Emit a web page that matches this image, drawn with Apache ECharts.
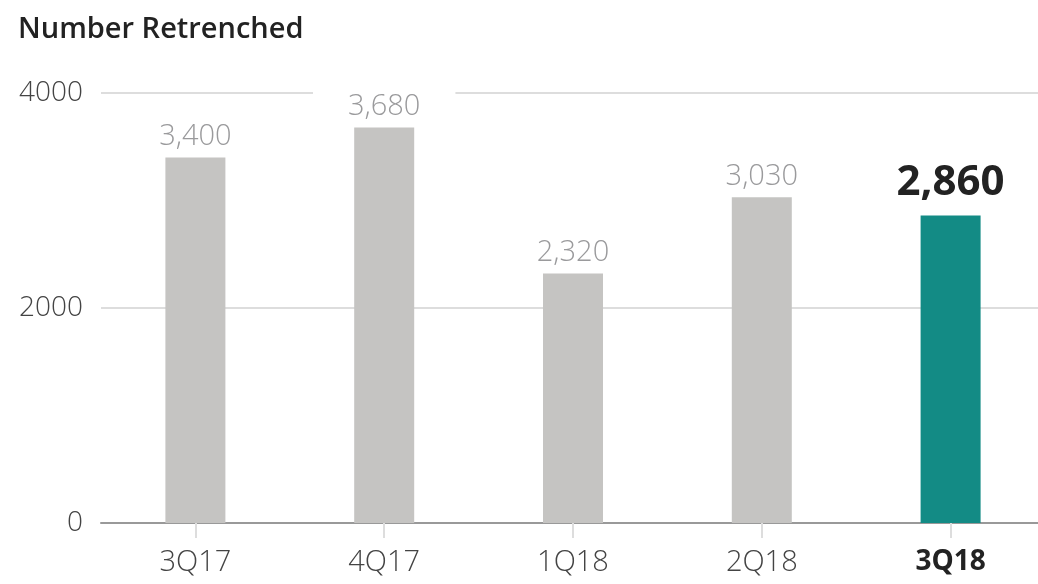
<!DOCTYPE html>
<html>
<head>
<meta charset="utf-8">
<script src="https://cdn.jsdelivr.net/npm/echarts@6/dist/echarts.min.js"></script>
<style>
html,body{margin:0;padding:0;background:#fff;}
#chart{width:1038px;height:584px;}
</style>
</head>
<body>
<div id="chart"></div>
<script>
const title = 'Number Retrenched';
const categories = ['3Q17', '4Q17', '1Q18', '2Q18', '3Q18'];
const values = [3400, 3680, 2320, 3030, 2860];
const highlightIndex = 4;
const yTicks = [0, 2000, 4000];

const FONT = '"Open Sans", "Noto Sans", sans-serif';
const chart = echarts.init(document.getElementById('chart'));

const data = values.map((v, i) => {
  const hl = i === highlightIndex;
  return {
    value: v,
    itemStyle: { color: hl ? '#138b85' : '#c5c4c2' },
    label: hl ? {
      color: '#222', fontSize: 42, fontWeight: 'bold', distance: 12,
      backgroundColor: 'transparent', padding: 0
    } : {}
  };
});

chart.setOption({
  animation: false,
  title: {
    text: title, left: 13, top: 10,
    textStyle: { fontFamily: FONT, fontSize: 29, fontWeight: 600, color: '#222' }
  },
  grid: { left: 101, top: 93, width: 944, height: 430, containLabel: false, outerBoundsMode: 'none' },
  xAxis: {
    type: 'category', data: categories,
    axisLine: { lineStyle: { color: '#999', width: 2 } },
    axisTick: { show: true, alignWithLabel: true, length: 15, lineStyle: { color: '#ddd', width: 2 } },
    axisLabel: {
      fontFamily: FONT, fontSize: 29, fontWeight: 300, color: '#444', margin: 25,
      formatter: (v) => categories.indexOf(v) === highlightIndex ? '{b|' + v + '}' : v,
      rich: { b: { fontFamily: FONT, fontSize: 28, fontWeight: 'bold', color: '#222' } }
    }
  },
  yAxis: {
    type: 'value', min: yTicks[0], max: yTicks[yTicks.length - 1], interval: yTicks[1] - yTicks[0],
    axisLine: { show: false }, axisTick: { show: false },
    splitLine: { lineStyle: { color: '#ddd', width: 2 } },
    axisLabel: { fontFamily: FONT, fontSize: 28, fontWeight: 300, color: '#444', margin: 18,
      formatter: (v) => String(v) }
  },
  series: [{
    type: 'bar', data: data, barWidth: 60,
    label: {
      show: true, position: 'top', distance: 4,
      fontFamily: FONT, fontSize: 29, fontWeight: 300, color: '#9a9a9c',
      backgroundColor: '#fff', padding: [2, 35],
      formatter: (p) => p.value.toLocaleString('en-US')
    }
  }]
});
</script>
</body>
</html>
